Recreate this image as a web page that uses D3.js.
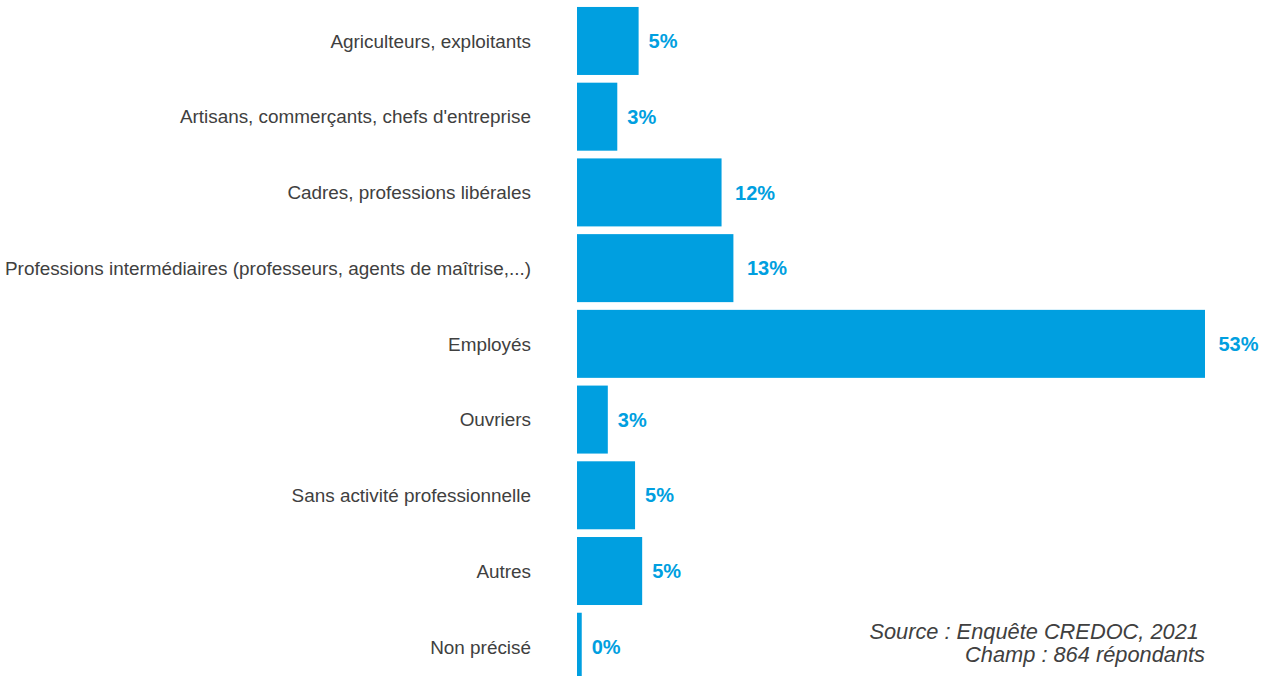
<!DOCTYPE html>
<html><head><meta charset="utf-8">
<script src="https://cdn.jsdelivr.net/npm/d3@7"></script>
<style>body{margin:0;background:#fff;}svg{display:block;}</style>
</head><body>
<svg id="c" width="1263" height="676"></svg>
<script>
const categories = ["Agriculteurs, exploitants","Artisans, commerçants, chefs d'entreprise","Cadres, professions libérales","Professions intermédiaires (professeurs, agents de maîtrise,...)","Employés","Ouvriers","Sans activité professionnelle","Autres","Non précisé"];
const values = [5.2, 3.4, 12.2, 13.2, 53, 2.6, 4.9, 5.5, 0.4];
const valueLabels = ["5%","3%","12%","13%","53%","3%","5%","5%","0%"];
const sourceLines = ["Source : Enquête CREDOC, 2021 ", "Champ : 864 répondants"];

const svg = d3.select("#c");
const x = d3.scaleLinear().domain([0, 53]).range([577, 1205]);
const y = d3.scaleBand().domain(categories).range([3.1, 684.6]).paddingInner(0.102).paddingOuter(0.051);
const blue = "#009FE0";
const font = "'Liberation Sans', Arial, sans-serif";

svg.selectAll("rect.bar").data(categories).join("rect")
  .attr("x", x(0)).attr("y", d => y(d))
  .attr("width", (d,i) => x(values[i]) - x(0))
  .attr("height", y.bandwidth()).attr("fill", blue);

svg.selectAll("text.cat").data(categories).join("text")
  .attr("x", 531).attr("y", d => y(d) + y.bandwidth()/2)
  .attr("dy", "0.36em").attr("text-anchor", "end")
  .attr("font-family", font).attr("font-size", 18.9)
  .attr("fill", "#404040").text(d => d);

svg.selectAll("text.val").data(categories).join("text")
  .attr("x", (d,i) => x(values[i]) + 10 + (valueLabels[i].length - 2) * 3.5)
  .attr("y", d => y(d) + y.bandwidth()/2)
  .attr("dy", "0.36em")
  .attr("font-family", font).attr("font-size", 20).attr("font-weight", "bold")
  .attr("fill", blue).text((d,i) => valueLabels[i]);

svg.selectAll("text.src").data(sourceLines).join("text")
  .attr("x", 1205).attr("y", (d,i) => 639 + i*23)
  .attr("text-anchor", "end").style("white-space", "pre")
  .attr("font-family", font).attr("font-size", 21.8).attr("font-style", "italic")
  .attr("fill", "#404040").text(d => d);
</script>
</body></html>
